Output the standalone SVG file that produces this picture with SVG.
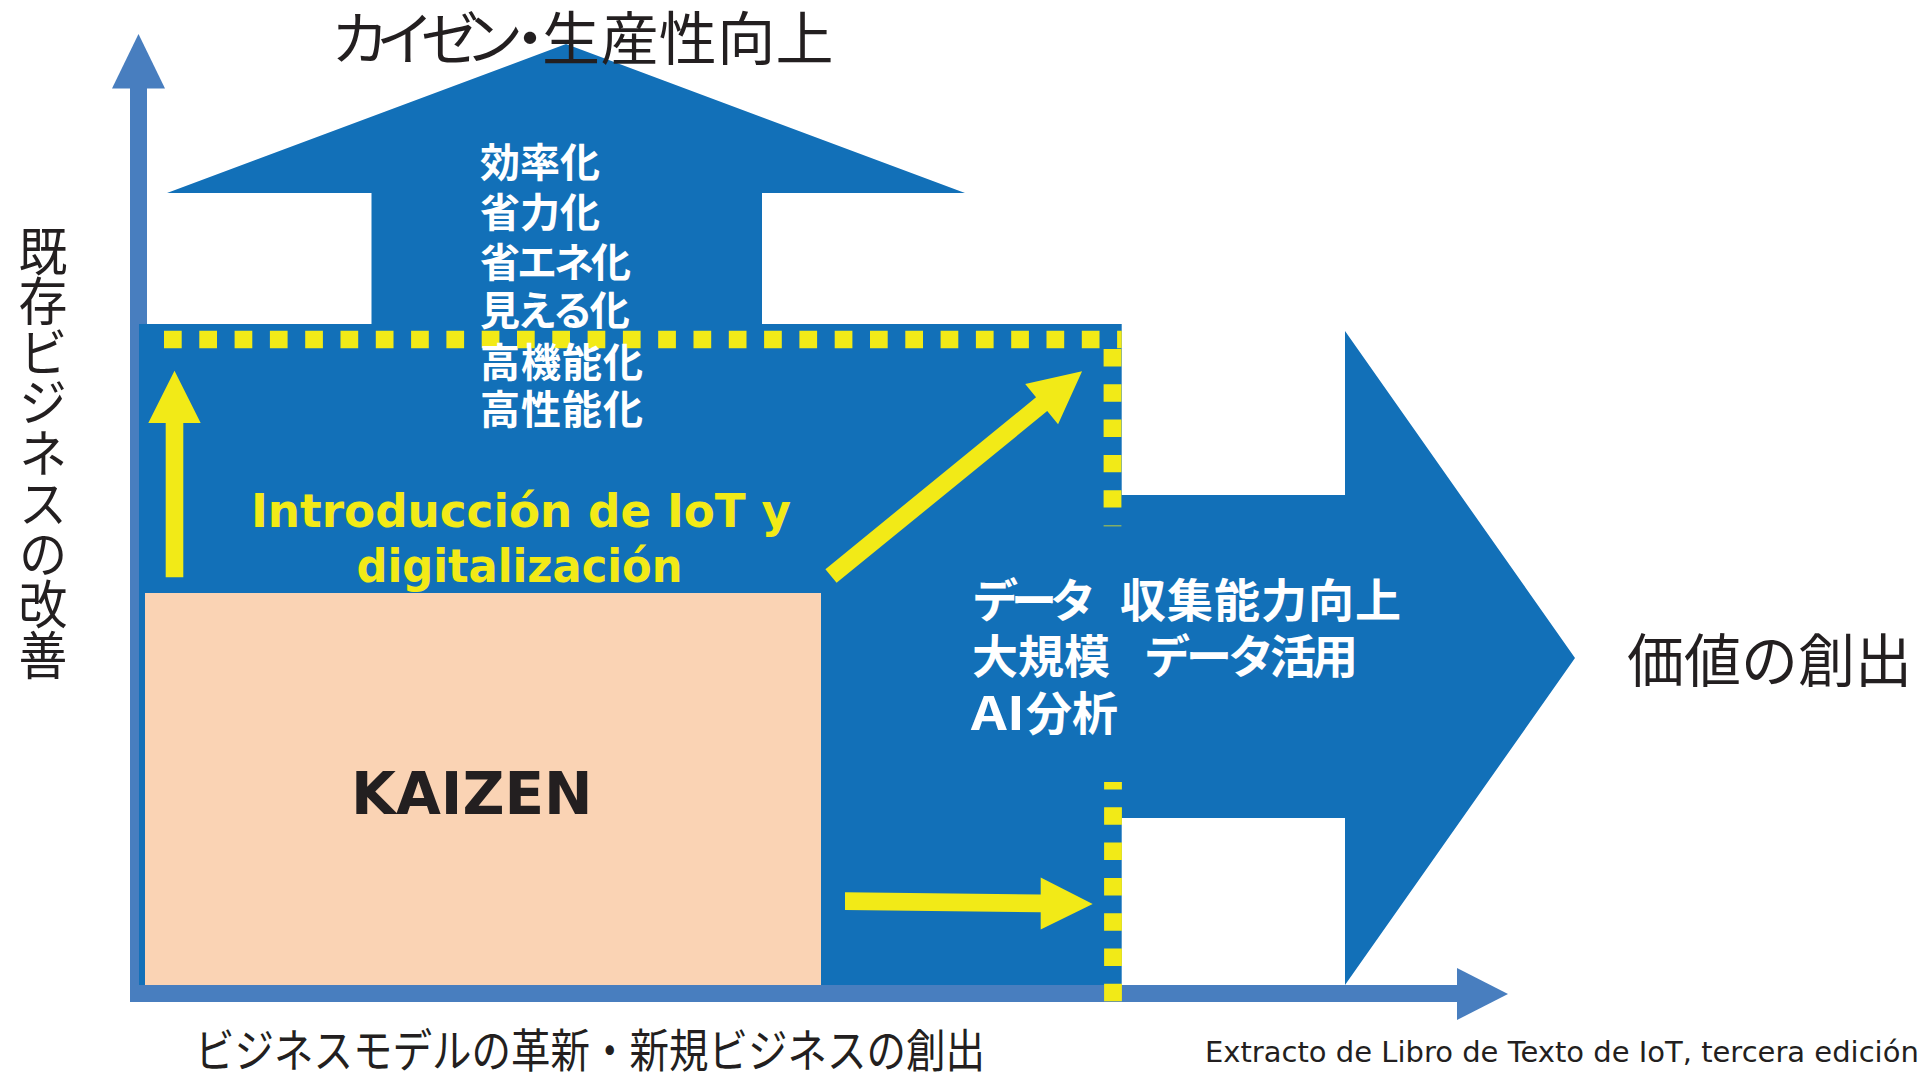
<svg xmlns="http://www.w3.org/2000/svg" width="1928" height="1077" viewBox="0 0 1928 1077">
<style>
.jp{font-family:"Noto Sans CJK JP","Noto Sans CJK SC",sans-serif}
.dark{fill:#231F20}
.wb{fill:#FFFFFF;font-weight:700;font-family:"Noto Sans CJK JP","Noto Sans CJK SC",sans-serif}
.yt{fill:#F2EA17;font-weight:700;font-family:"DejaVu Sans","Liberation Sans",sans-serif}
.axis{fill:#487EBF}
.yarrow{fill:#F2EA17}
.dots{stroke:#F2EA17;fill:none}
.vert{writing-mode:vertical-rl}
</style>
<rect width="1928" height="1077" fill="#FFFFFF"/>

<g id="axes">
  <rect class="axis" x="130" y="86" width="17" height="916"/>
  <polygon class="axis" points="112,88.5 165,88.5 138.5,34"/>
  <rect class="axis" x="130" y="985" width="1330" height="17"/>
  <polygon class="axis" points="1457,968 1508,994 1457,1020"/>
</g>

<g id="blue-shape">
  <polygon fill="#1270B8" points="167,193 566,44 965,193 762,193 762,324 1121.7,324 1121.7,495 1345,495 1345,331 1575,658 1345,985 1345,818 1121.7,818 1121.7,985 139,985 139,324 371.5,324 371.5,193"/>
</g>

<g id="kaizen">
  <rect x="145" y="593" width="676" height="392" fill="#FAD3B4"/>
  <text x="351" y="814" font-family="DejaVu Sans, Liberation Sans, sans-serif" font-weight="700" font-size="58" class="dark">KAIZEN</text>
</g>

<g id="boundary">
  <line class="dots" x1="164" y1="339.5" x2="1121.7" y2="339.5" stroke-width="17.6" stroke-dasharray="17.7 17.6"/>
  <line class="dots" x1="1112.5" y1="349" x2="1112.5" y2="526.3" stroke-width="17.8" stroke-dasharray="17.4 17.9"/>
  <line class="dots" x1="1113" y1="782" x2="1113" y2="1002" stroke-width="17.8" stroke-dasharray="17.5 17.8" stroke-dashoffset="10"/>
</g>

<g id="connectors">
  <polygon class="yarrow" points="165.7,577.3 165.7,423 148.3,423 174.5,370.7 200.7,423 183.3,423 183.3,577.3"/>
  <polygon class="yarrow" points="0,-8.85 271.8,-8.85 271.8,-26 324,0 271.8,26 271.8,8.85 0,8.85" transform="translate(831,576) rotate(-39.2)"/>
  <polygon class="yarrow" points="845,892.3 1040.7,894.5 1040.7,877.6 1092.7,904 1040.7,929.6 1040.7,912.2 845,910"/>
</g>

<g id="kaizen-items">
  <text class="wb" font-size="40">
    <tspan x="480" y="177">効率化</tspan>
    <tspan x="480" y="227">省力化</tspan>
    <tspan x="480" y="277" letter-spacing="-3">省エネ化</tspan>
    <tspan x="480" y="325" letter-spacing="-3">見える化</tspan>
    <tspan x="480" y="377" letter-spacing="1">高機能化</tspan>
    <tspan x="480" y="424" letter-spacing="1">高性能化</tspan>
  </text>
</g>

<g id="iot-label" class="yt" font-size="47" text-anchor="middle">
  <text x="521" y="527" textLength="540" lengthAdjust="spacingAndGlyphs">Introducción de IoT y</text>
  <text x="519.5" y="582" textLength="326" lengthAdjust="spacingAndGlyphs">digitalización</text>
</g>

<g id="data-items" class="wb" font-size="46">
  <text>
    <tspan x="972" y="617" letter-spacing="-7">データ</tspan>
    <tspan x="1120" y="617" letter-spacing="1">収集能力向上</tspan>
    <tspan x="972" y="673">大規模</tspan>
    <tspan x="1144" y="673" letter-spacing="-4">データ活用</tspan>
  </text>
  <text x="971" y="730" textLength="54" lengthAdjust="spacingAndGlyphs">AI</text>
  <text x="1026" y="730">分析</text>
</g>

<g id="title">
  <text class="jp dark" font-size="58" y="60" x="331 376 421 465 501 542 600.4 658.8 717.2 775.6">カイゼン・生産性向上</text>
</g>

<g id="y-label">
  <g transform="translate(43,0) scale(0.94,1)">
    <text class="jp dark vert" x="0" y="225" font-size="52" letter-spacing="-1.5">既存ビジネスの改善</text>
  </g>
</g>

<g id="x-label">
  <text class="jp dark" x="195" y="1067" font-size="46" textLength="790" lengthAdjust="spacingAndGlyphs">ビジネスモデルの革新・新規ビジネスの創出</text>
</g>

<g id="value-label">
  <text class="jp dark" x="1627" y="682" font-size="58" textLength="285" lengthAdjust="spacingAndGlyphs">価値の創出</text>
</g>

<g id="source">
  <text class="dark" x="1205" y="1062" font-family="DejaVu Sans, Liberation Sans, sans-serif" font-size="29">Extracto de Libro de Texto de IoT, tercera edición</text>
</g>
</svg>
